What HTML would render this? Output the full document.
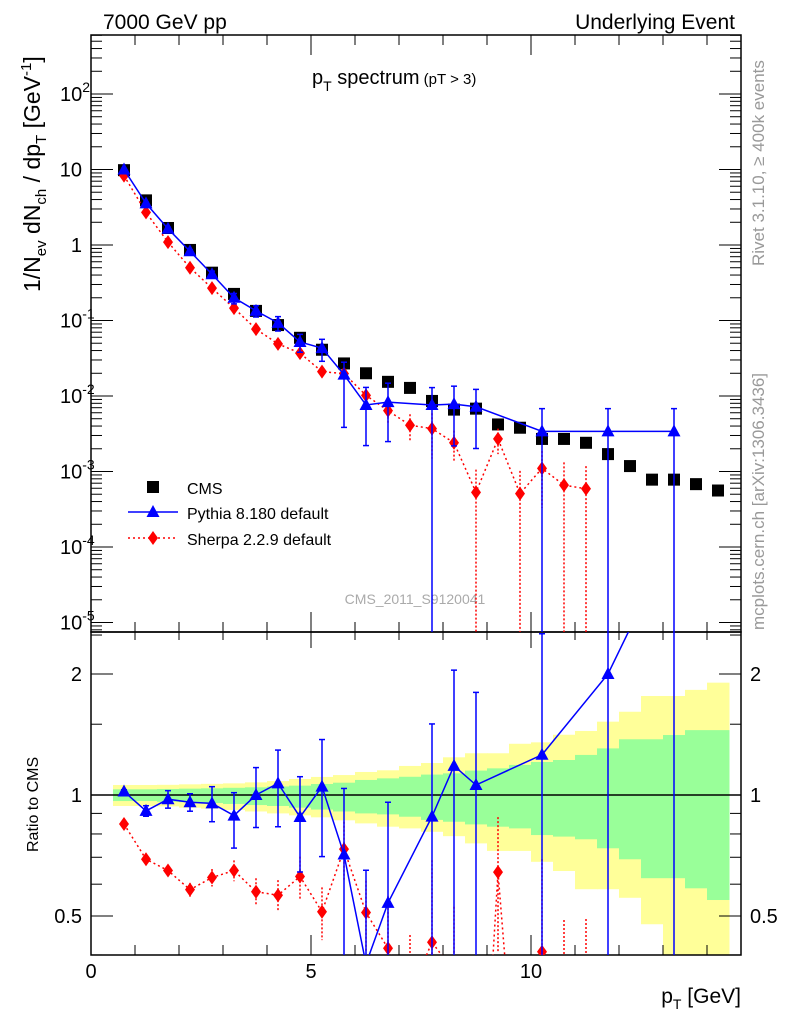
<!DOCTYPE html>
<html><head><meta charset="utf-8"><style>
html,body{margin:0;background:#fff;overflow:hidden;width:786px;height:1024px}
svg{display:block;font-family:"Liberation Sans",sans-serif}
</style></head><body>
<svg id="c" width="786" height="1024" viewBox="0 0 786 1024" xmlns="http://www.w3.org/2000/svg">
<text x="103" y="29" font-size="21">7000 GeV pp</text>
<text x="735" y="29" font-size="21" text-anchor="end">Underlying Event</text>
<text x="312" y="84" font-size="20">p<tspan font-size="14" dy="7">T</tspan><tspan dy="-7"> spectrum</tspan><tspan font-size="15"> (pT &gt;  3)</tspan></text>
<text transform="translate(764,266) rotate(-90)" font-size="17" fill="#999">Rivet 3.1.10, ≥ 400k events</text>
<text transform="translate(764,630) rotate(-90)" font-size="17" fill="#999">mcplots.cern.ch [arXiv:1306.3436]</text>
<text transform="translate(40,292) rotate(-90)" font-size="23">1/N<tspan font-size="15" dy="6">ev</tspan><tspan dy="-6"> dN</tspan><tspan font-size="15" dy="6">ch</tspan><tspan dy="-6"> / dp</tspan><tspan font-size="15" dy="6">T</tspan><tspan dy="-6"> [GeV</tspan><tspan font-size="15" dy="-9">-1</tspan><tspan dy="9">]</tspan></text>
<text transform="translate(38,852) rotate(-90)" font-size="16">Ratio to CMS</text>
<text x="741" y="1003" font-size="21" text-anchor="end">p<tspan font-size="14" dy="6">T</tspan><tspan dy="-6"> [GeV]</tspan></text>
<text x="415" y="604" font-size="14" fill="#aaa" text-anchor="middle">CMS_2011_S9120041</text>
<g id="g"></g>
</svg>
<script>
const xC=[0.75,1.25,1.75,2.25,2.75,3.25,3.75,4.25,4.75,5.25,5.75,6.25,6.75,7.25,7.75,8.25,8.75,9.25,9.75,10.25,10.75,11.25,11.75,12.25,12.75,13.25,13.75,14.25];
const cmsVals=[9.8,3.9,1.68,0.86,0.43,0.225,0.134,0.087,0.059,0.041,0.027,0.020,0.0154,0.0128,0.0086,0.0066,0.0068,0.0042,0.0038,0.0027,0.0027,0.0024,0.0017,0.00118,0.00078,0.00078,0.00068,0.00056];
const pyX=[0.75,1.25,1.75,2.25,2.75,3.25,3.75,4.25,4.75,5.25,5.75,6.25,6.75,7.75,8.25,8.75,10.25,11.75,13.25];
const pyVals=[10.0,3.56,1.64,0.825,0.41,0.20,0.134,0.093,0.052,0.043,0.0192,0.0076,0.0083,0.0076,0.0078,0.0072,0.0034,0.0034,0.0034];
const pyErrUp=[0.01,0.03,0.05,0.05,0.1,0.14,0.17,0.21,0.26,0.31,0.46,0.71,0.78,0.7,0.73,0.7,1.0,1.0,1.0];
const pyErrDn=[0.01,0.03,0.05,0.05,0.1,0.17,0.17,0.22,0.27,0.33,0.8,0.71,0.7,1,0.72,0.72,1,1,1];
const shX=[0.75,1.25,1.75,2.25,2.75,3.25,3.75,4.25,4.75,5.25,5.75,6.25,6.75,7.25,7.75,8.25,8.75,9.25,9.75,10.25,10.75,11.25];
const shVals=[8.3,2.7,1.09,0.50,0.268,0.146,0.077,0.049,0.037,0.021,0.0198,0.0102,0.0064,0.0041,0.0037,0.0024,0.00053,0.0027,0.00051,0.0011,0.00066,0.00059];
const shErr=[0.02,0.03,0.03,0.04,0.05,0.06,0.08,0.09,0.12,0.15,0.17,0.2,0.35,0.4,0.6,0.45,1,0.37,1,0.7,1,1];
const greenHi=[1.033,1.033,1.035,1.037,1.039,1.042,1.045,1.05,1.055,1.065,1.073,1.09,1.1,1.11,1.124,1.132,1.15,1.165,1.188,1.208,1.222,1.258,1.306,1.376,1.376,1.41,1.45,1.45];
const greenLo=[0.966,0.966,0.962,0.96,0.955,0.95,0.944,0.939,0.93,0.92,0.91,0.9,0.895,0.883,0.867,0.858,0.845,0.834,0.826,0.795,0.788,0.776,0.737,0.692,0.621,0.621,0.586,0.548];
const yellowHi=[1.059,1.059,1.06,1.063,1.066,1.069,1.075,1.083,1.096,1.109,1.121,1.141,1.152,1.181,1.201,1.241,1.27,1.27,1.341,1.352,1.412,1.443,1.522,1.611,1.763,1.763,1.826,1.903];
const yellowLo=[0.939,0.939,0.937,0.93,0.925,0.918,0.91,0.9,0.89,0.88,0.865,0.85,0.834,0.826,0.81,0.79,0.758,0.726,0.726,0.682,0.647,0.583,0.583,0.555,0.477,0.35,0.35,0.35];
const xTicks=[0,5,10];
const yTicks=[-5,-4,-3,-2,-1,0,1,2];
const rTicks=[0.5,1,2];

const NS="http://www.w3.org/2000/svg",G=document.getElementById('g');
const L=91,R=741,T=35,M=632,B=955;
const X=v=>L+44*v;
const Y=v=>245-75.5*Math.log10(v);
const RY=v=>795-402*Math.log10(v);
const clampR=y=>Math.max(M,Math.min(B,y));
function el(t,a,name,p){const e=document.createElementNS(NS,t);for(const k in a)e.setAttribute(k,a[k]);


(p||G).appendChild(e);return e;}

for(let i=0;i<xC.length;i++){
 const x0=X(xC[i]-0.25),x1=X(xC[i]+0.25);
 let a=clampR(RY(yellowHi[i])),b=clampR(RY(yellowLo[i]));
 el('rect',{x:x0,y:a,width:x1-x0+0.5,height:b-a,fill:'#ffff99'},'syst-band');
 a=clampR(RY(greenHi[i]));b=clampR(RY(greenLo[i]));
 el('rect',{x:x0,y:a,width:x1-x0+0.5,height:b-a,fill:'#99ff99'},'stat-band');
}
el('line',{x1:L,x2:R,y1:RY(1),y2:RY(1),stroke:'#000','stroke-width':1.5},'ratio-unity-line');

el('rect',{x:L,y:T,width:R-L,height:M-T,fill:'none',stroke:'#000','stroke-width':1.5},'main-frame');
el('rect',{x:L,y:M,width:R-L,height:B-M,fill:'none',stroke:'#000','stroke-width':1.5},'ratio-frame');

for(let v=0;v<=14.5;v+=1){const maj=v%5===0,len=maj?20:10,x=X(v);
 el('line',{x1:x,x2:x,y1:B,y2:B-len,stroke:'#000'},'x-tick');
 el('line',{x1:x,x2:x,y1:M,y2:M-len,stroke:'#000'},'x-tick');
 el('line',{x1:x,x2:x,y1:T,y2:T+len,stroke:'#000'},'x-tick');
 el('line',{x1:x,x2:x,y1:M,y2:M+len*0.8,stroke:'#000'},'x-tick');}
xTicks.forEach(v=>{const t=el('text',{x:X(v),y:978,'font-size':20,'text-anchor':'middle'},'x-tick-label');t.textContent=v;});
for(let d=-6;d<=2;d++)for(let m=1;m<10;m++){const v=m*Math.pow(10,d),y=Y(v);if(y<T||y>M)continue;
 const len=m===1?22:11;
 el('line',{x1:L,x2:L+len,y1:y,y2:y,stroke:'#000'},'y-tick');
 el('line',{x1:R,x2:R-len,y1:y,y2:y,stroke:'#000'},'y-tick');}
yTicks.forEach(d=>{const t=el('text',{x:d>=0&&d<2?82:60,y:Y(Math.pow(10,d))+7,'font-size':20,'text-anchor':d>=0&&d<2?'end':'start'},'y-tick-label');
 if(d===0)t.textContent='1';else if(d===1)t.textContent='10';
 else{t.textContent='10';const s=el('tspan',{'font-size':14,dy:-9},'exp',t);s.textContent=d;}});
[0.4,0.5,0.6,0.7,0.8,0.9,1,1.5,2,2.5].forEach(v=>{const y=RY(v);if(y<M||y>B)return;const maj=(v===0.5||v===1||v===2);
 const len=maj?22:11;
 el('line',{x1:L,x2:L+len,y1:y,y2:y,stroke:'#000'},'ratio-tick');
 el('line',{x1:R,x2:R-len,y1:y,y2:y,stroke:'#000'},'ratio-tick');});
rTicks.forEach(v=>{const t=el('text',{x:82,y:RY(v)+7,'font-size':20,'text-anchor':'end'},'ratio-tick-label');t.textContent=v;
 const t2=el('text',{x:750,y:RY(v)+7,'font-size':20},'ratio-tick-label-right');t2.textContent=v;});

const clipM=el('clipPath',{id:'cm'},'clip');el('rect',{x:L,y:T,width:R-L,height:M-T},'clip-rect',clipM);
const clipR=el('clipPath',{id:'cr'},'clip');el('rect',{x:L,y:M,width:R-L,height:B-M},'clip-rect',clipR);
const gm=el('g',{'clip-path':'url(#cm)'},'main-series');
const gr=el('g',{'clip-path':'url(#cr)'},'ratio-series');
const diamond=(x,y)=>`${x},${y-7} ${x+5},${y} ${x},${y+7} ${x-5},${y}`;
const tri=(x,y)=>`${x},${y-7} ${x+6.5},${y+5} ${x-6.5},${y+5}`;
function cap(x,y,c,p){el('line',{x1:x-3,x2:x+3,y1:y,y2:y,stroke:c,'stroke-width':1.5},'error-cap',p);}

xC.forEach((x,i)=>el('rect',{x:X(x)-6,y:Y(cmsVals[i])-6,width:12,height:12,fill:'#000'},'cms-point',gm));
const cmsAt=x=>cmsVals[xC.indexOf(x)];

el('polyline',{points:shX.map((x,i)=>X(x)+','+Y(shVals[i])).join(' '),fill:'none',stroke:'#f00','stroke-width':1.5,'stroke-dasharray':'2,3'},'sherpa-line',gm);
el('polyline',{points:shX.map((x,i)=>X(x)+','+RY(shVals[i]/cmsAt(x))).join(' '),fill:'none',stroke:'#f00','stroke-width':1.5,'stroke-dasharray':'2,3'},'sherpa-ratio-line',gr);
shX.forEach((x,i)=>{const v=shVals[i],e=shErr[i],px=X(x),r=v/cmsAt(x);
 const lo=v*(1-e)>0?Y(v*(1-e)):M+5,rlo=r*(1-e)>0?RY(r*(1-e)):B+5;
 el('line',{x1:px,x2:px,y1:Y(v*(1+e)),y2:lo,stroke:'#f00','stroke-width':1.5,'stroke-dasharray':'2,2'},'sherpa-error',gm);
 el('line',{x1:px,x2:px,y1:RY(r*(1+e)),y2:rlo,stroke:'#f00','stroke-width':1.5,'stroke-dasharray':'2,2'},'sherpa-ratio-error',gr);
 el('polygon',{points:diamond(px,Y(v)),fill:'#f00'},'sherpa-point',gm);
 el('polygon',{points:diamond(px,RY(r)),fill:'#f00'},'sherpa-ratio-point',gr);});

el('polyline',{points:pyX.map((x,i)=>X(x)+','+Y(pyVals[i])).join(' '),fill:'none',stroke:'#00f','stroke-width':1.5},'pythia-line',gm);
el('polyline',{points:pyX.map((x,i)=>X(x)+','+RY(pyVals[i]/cmsAt(x))).join(' '),fill:'none',stroke:'#00f','stroke-width':1.5},'pythia-ratio-line',gr);
pyX.forEach((x,i)=>{const v=pyVals[i],px=X(x),r=v/cmsAt(x),u=pyErrUp[i],d=pyErrDn[i];
 const lo=v*(1-d)>0?Y(v*(1-d)):M+5,rlo=r*(1-d)>0?RY(r*(1-d)):B+5;
 el('line',{x1:px,x2:px,y1:Y(v*(1+u)),y2:lo,stroke:'#00f','stroke-width':1.5},'pythia-error',gm);
 el('line',{x1:px,x2:px,y1:RY(r*(1+u)),y2:rlo,stroke:'#00f','stroke-width':1.5},'pythia-ratio-error',gr);
 cap(px,Y(v*(1+u)),'#00f',gm);cap(px,lo,'#00f',gm);
 cap(px,RY(r*(1+u)),'#00f',gr);cap(px,rlo,'#00f',gr);
 el('polygon',{points:tri(px,Y(v)),fill:'#00f'},'pythia-point',gm);
 el('polygon',{points:tri(px,RY(r)),fill:'#00f'},'pythia-ratio-point',gr);});

el('rect',{x:147,y:481,width:12,height:12,fill:'#000'},'legend-cms-marker');
el('line',{x1:128,x2:178,y1:512,y2:512,stroke:'#00f','stroke-width':1.5},'legend-pythia-line');
el('polygon',{points:tri(153,512),fill:'#00f'},'legend-pythia-marker');
el('line',{x1:128,x2:178,y1:538,y2:538,stroke:'#f00','stroke-width':1.5,'stroke-dasharray':'2,3'},'legend-sherpa-line');
el('polygon',{points:diamond(153,538),fill:'#f00'},'legend-sherpa-marker');
[['CMS',494],['Pythia 8.180 default',519],['Sherpa 2.2.9 default',545]].forEach(([t,y])=>{const e=el('text',{x:187,y:y,'font-size':16},'legend-entry');e.textContent=t;});
</script>
</body></html>
